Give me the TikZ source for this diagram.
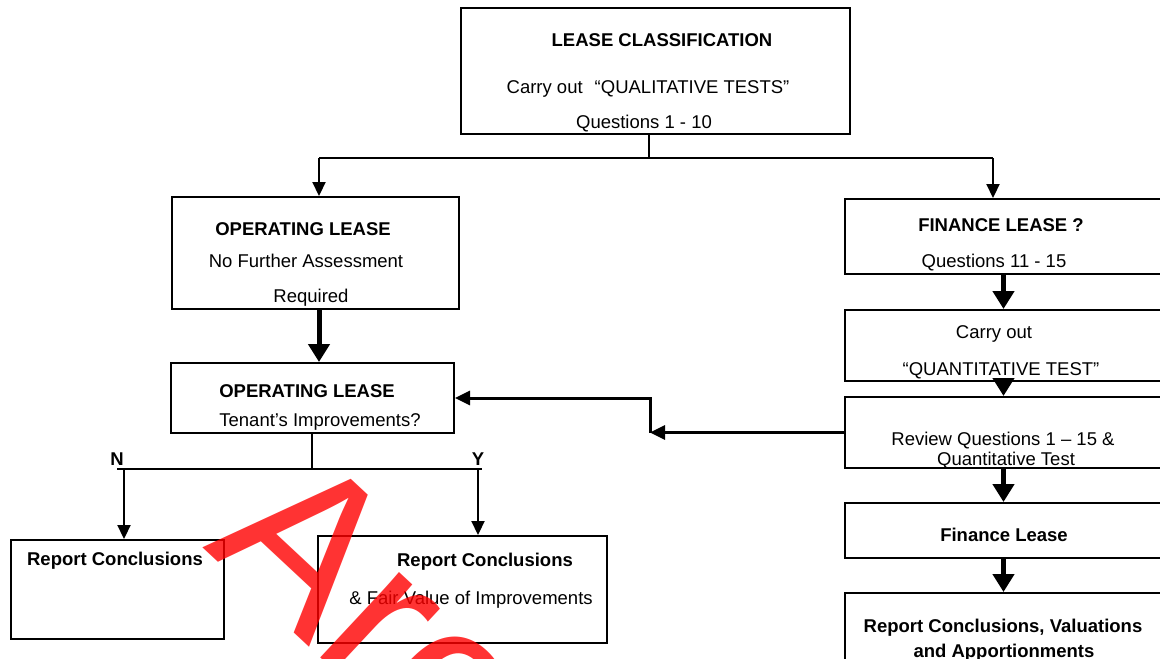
\documentclass[tikz,border=0pt]{standalone}
\usepackage{fontspec}
\setmainfont{Liberation Sans}
\usetikzlibrary{arrows.meta}
\begin{document}
\begin{tikzpicture}[x=1pt,y=-1pt,
  box/.style={draw, line width=2pt, inner sep=0pt, rectangle},
  txt/.style={inner sep=0pt, anchor=base, font=\fontsize{18.5}{22}\selectfont},
  btxt/.style={inner sep=0pt, anchor=base, font=\fontsize{18.5}{22}\selectfont\bfseries},
  conn/.style={line width=2pt},
  thinarr/.style={line width=2.2pt, -{Triangle[length=14pt,width=13pt]}},
  thickarr/.style={line width=5pt, -{Triangle[length=18pt,width=21pt]}},
  medarr/.style={line width=3pt, -{Triangle[length=15pt,width=14pt]}}
]
\useasboundingbox (0,0) rectangle (1160,659);
\clip (0,0) rectangle (1160,659);
\fill[white] (0,0) rectangle (1160,659);

% boxes
\node[box, minimum width=389pt, minimum height=126pt] (top) at (655.5,71) {};
\node[box, minimum width=287pt, minimum height=112pt] (op1) at (315.5,253) {};
\node[box, minimum width=283pt, minimum height=70pt] (op2) at (312.5,398) {};
\node[box, minimum width=213pt, minimum height=99pt] (rcL) at (117.5,589.5) {};
\node[box, minimum width=289pt, minimum height=107pt] (rcR) at (462.5,589.5) {};
\node[box, minimum width=317pt, minimum height=75pt] (fl1) at (1003.5,236.5) {};
\node[box, minimum width=317pt, minimum height=71pt] (qt) at (1003.5,345.5) {};
\node[box, minimum width=317pt, minimum height=71pt] (rv) at (1003.5,432.5) {};
\node[box, minimum width=317pt, minimum height=55pt] (fl2) at (1003.5,530.5) {};
\node[box, minimum width=317pt, minimum height=107pt] (rc3) at (1003.5,646.5) {};

% texts
\node[btxt] (t1) at (662,46) {LEASE CLASSIFICATION};
\node[txt] (t2) at (648,93) {Carry out\hspace{12pt}“QUALITATIVE TESTS”};
\node[txt] (t3) at (644,128) {Questions 1 - 10};
\node[btxt] (o1) at (303,235) {OPERATING LEASE};
\node[txt] (o2) at (306,267) {No Further Assessment};
\node[txt] (o3) at (311,302) {Required};
\node[btxt] (p1) at (307,397) {OPERATING LEASE};
\node[txt] (p2) at (320,426) {Tenant’s Improvements?};
\node[btxt] (lN) at (117,465) {N};
\node[btxt] (lY) at (478,465) {Y};
\node[btxt] (rl) at (115,565) {Report Conclusions};
\node[btxt] (rr1) at (485,566) {Report Conclusions};
\node[txt] (rr2) at (471,604) {\& Fair Value of Improvements};
\node[btxt] (f1) at (1001,231) {FINANCE LEASE ?};
\node[txt] (f2) at (994,267) {Questions 11 - 15};
\node[txt] (q1) at (994,338) {Carry out};
\node[txt] (q2) at (1001,375) {“QUANTITATIVE TEST”};
\node[txt] (r1) at (1003,445) {Review Questions 1 – 15 \&};
\node[txt] (r2) at (1006,465) {Quantitative Test};
\node[btxt] (fl) at (1004,541) {Finance Lease};
\node[btxt] (c1) at (1003,632) {Report Conclusions, Valuations};
\node[btxt] (c2) at (1004,657) {and Apportionments};

% connectors
\coordinate (ja) at (649,158);
\coordinate (jl) at (319,158);
\coordinate (jr) at (993,158);
\draw[conn] (top.south -| ja) -- (ja);
\draw[conn] (jl) -- (jr);
\draw[thinarr] (jl) -- (jl |- op1.north);
\draw[thinarr] (jr) -- (jr |- fl1.north);
\draw[thickarr] (op1.south -| jl) -- (op2.north -| jl);

\coordinate (jb) at (312,469);
\coordinate (nl) at (117,469);
\coordinate (nr) at (482,469);
\coordinate (aN) at (124,469);
\coordinate (aY) at (478,469);
\draw[conn] (op2.south -| jb) -- (jb);
\draw[conn] (nl) -- (nr);
\draw[thinarr] (aN) -- (aN |- rcL.north);
\draw[thinarr] (aY) -- (aY |- rcR.north);

\draw[thickarr] (fl1.south) -- (qt.north);
\draw[thickarr] (qt.south) -- (rv.north);
\draw[thickarr] (rv.south) -- (fl2.north);
\draw[thickarr] (fl2.south) -- (rc3.north);

\coordinate (cr) at (650,432.5);
\draw[medarr] (rv.west) -- (cr);
\draw[medarr] (cr) |- (op2.east);

% watermark
\node[rotate=-43, anchor=base west, inner sep=0pt, text=red, text opacity=0.8,
  font=\fontsize{220}{220}\selectfont] (wm) at (202,547) {Arc};
\end{tikzpicture}
\end{document}
